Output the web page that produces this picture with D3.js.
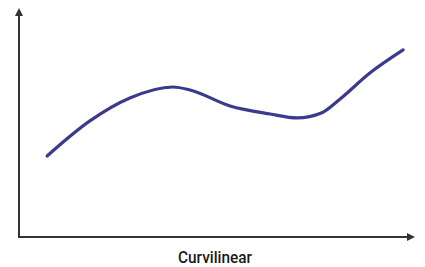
<!DOCTYPE html>
<html><head><meta charset="utf-8">
<script src="https://cdn.jsdelivr.net/npm/d3@7"></script>
<style>html,body{margin:0;padding:0;background:#fff;}
.lbl{font-family:Roboto,"DejaVu Sans",sans-serif;font-weight:500;}</style>
</head><body>
<svg id="c" width="425" height="267"></svg>
<script>
const xValues = [7.1, 17.9, 28.0, 38.9, 43.2, 53.3, 63.4, 70.2, 76.5, 81.1, 88.6, 97.0];
const yValues = [35.4, 50.7, 60.7, 65.5, 64.2, 57.2, 53.7, 52.0, 54.3, 60.3, 71.6, 81.7];
const xLabel = "Curvilinear";

const svg = d3.select("#c");
const x = d3.scaleLinear().domain([0, 100]).range([19, 415]);
const y = d3.scaleLinear().domain([0, 100]).range([237, 8]);

const axisColor = "#333";
// y axis
svg.append("line").attr("x1", x(0)).attr("x2", x(0)).attr("y1", y(0)+1).attr("y2", y(100)+4)
  .attr("stroke", axisColor).attr("stroke-width", 2);
svg.append("path").attr("d", `M${x(0)},${y(100)} L${x(0)-4},${y(100)+8} L${x(0)+4},${y(100)+8} Z`).attr("fill", axisColor);
// x axis
svg.append("line").attr("x1", x(0)-1).attr("x2", x(100)-4).attr("y1", y(0)).attr("y2", y(0))
  .attr("stroke", axisColor).attr("stroke-width", 2);
svg.append("path").attr("d", `M${x(100)},${y(0)} L${x(100)-8},${y(0)-4} L${x(100)-8},${y(0)+4} Z`).attr("fill", axisColor);

const data = xValues.map((v, i) => [v, yValues[i]]);
svg.append("path").datum(data)
  .attr("d", d3.line().x(d => x(d[0])).y(d => y(d[1])).curve(d3.curveMonotoneX))
  .attr("fill", "none").attr("stroke", "#3b3b8e").attr("stroke-width", 3.2).attr("stroke-linecap", "round");

svg.append("text").attr("class", "lbl").attr("x", 178).attr("y", 263)
  .attr("textLength", 74).attr("lengthAdjust", "spacingAndGlyphs")
  .attr("font-size", 16).attr("fill", "#1a1a1a").text(xLabel);
</script>
</body></html>
